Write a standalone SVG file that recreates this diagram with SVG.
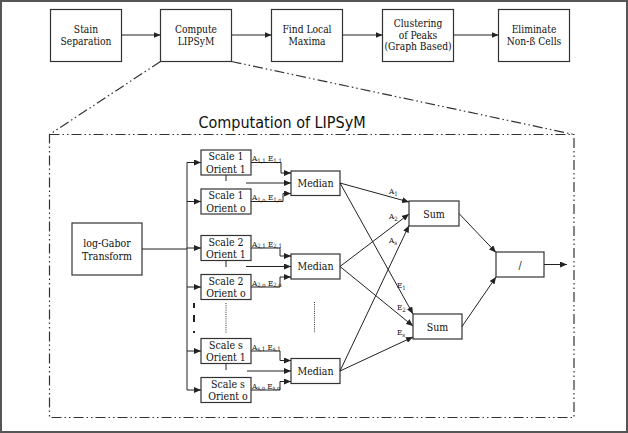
<svg xmlns="http://www.w3.org/2000/svg" width="628" height="433" viewBox="0 0 628 433">
<defs>
<marker id="ah" markerUnits="userSpaceOnUse" markerWidth="7" markerHeight="6" refX="7" refY="3" orient="auto">
<path d="M0,0 L7,3 L0,6 z" fill="#222"/>
</marker>
<style>
.box{fill:#fff;stroke:#333;stroke-width:1.2}
.ln{fill:none;stroke:#222;stroke-width:1}
.ar{fill:none;stroke:#222;stroke-width:1;marker-end:url(#ah)}
.t{font-family:"DejaVu Serif Condensed","DejaVu Serif","Liberation Serif",serif;font-size:10.5px;fill:#111;text-anchor:middle}
.tt{font-family:"DejaVu Serif Condensed","DejaVu Serif","Liberation Serif",serif;font-size:10.2px;fill:#111;text-anchor:middle}
.lb{font-family:"DejaVu Serif Condensed","DejaVu Serif","Liberation Serif",serif;font-size:8px;fill:#111}
.sb{font-size:6px}
.dd{fill:none;stroke:#333;stroke-width:1.2;stroke-dasharray:10 3 1.5 3 1.5 3}
.title{font-family:"DejaVu Sans Condensed","DejaVu Sans","Liberation Sans",sans-serif;font-size:16px;fill:#111;text-anchor:middle}
</style>
</defs>
<rect x="0" y="0" width="628" height="433" fill="#fff"/>
<rect x="1" y="1" width="626" height="431" fill="none" stroke="#555" stroke-width="2"/>

<!-- top pipeline -->
<g id="stain"><rect class="box" x="50.5" y="9.5" width="71" height="52"/><text class="tt" x="86" y="33">Stain</text><text class="tt" x="86" y="45">Separation</text></g>
<g id="compute"><rect class="box" x="160.5" y="9.5" width="71" height="52"/><text class="tt" x="196" y="33">Compute</text><text class="tt" x="196" y="45">LIPSyM</text></g>
<g id="findmax"><rect class="box" x="271.5" y="9.5" width="71" height="52"/><text class="tt" x="307" y="33">Find Local</text><text class="tt" x="307" y="45">Maxima</text></g>
<g id="cluster"><rect class="box" x="382.5" y="9.5" width="71" height="52"/><text class="tt" x="418" y="27">Clustering</text><text class="tt" x="418" y="38.5">of Peaks</text><text class="tt" x="418" y="50">(Graph Based)</text></g>
<g id="eliminate"><rect class="box" x="498.5" y="9.5" width="71" height="52"/><text class="tt" x="534" y="33">Eliminate</text><text class="tt" x="534" y="45">Non-ß Cells</text></g>

<!-- zoom frame -->
<g id="frame">
<line class="dd" x1="160.5" y1="61.5" x2="49.5" y2="134.5"/>
<line class="dd" x1="231.5" y1="61.5" x2="574" y2="134.5"/>
<rect class="dd" x="49.5" y="134.5" width="524.5" height="283"/>
<text class="title" x="282" y="128">Computation of LIPSyM</text>
</g>

<!-- inner nodes -->
<g id="loggabor"><rect class="box" x="72" y="223" width="70" height="52"/><text class="t" x="107" y="247">log-Gabor</text><text class="t" x="107" y="260">Transform</text></g>

<g id="s1o1"><rect class="box" x="201" y="150" width="50" height="25"/><text class="t" x="226" y="160">Scale 1</text><text class="t" x="226" y="172.5">Orient 1</text></g>
<g id="s1oo"><rect class="box" x="201" y="189" width="50" height="25"/><text class="t" x="226" y="199">Scale 1</text><text class="t" x="226" y="211.5">Orient o</text></g>
<g id="s2o1"><rect class="box" x="201" y="235.5" width="50" height="25"/><text class="t" x="226" y="245.5">Scale 2</text><text class="t" x="226" y="258">Orient 1</text></g>
<g id="s2oo"><rect class="box" x="201" y="274.5" width="50" height="25"/><text class="t" x="226" y="284.5">Scale 2</text><text class="t" x="226" y="297">Orient o</text></g>
<g id="sso1"><rect class="box" x="201" y="338.5" width="50" height="25"/><text class="t" x="226" y="348.5">Scale s</text><text class="t" x="226" y="361">Orient 1</text></g>
<g id="ssoo"><rect class="box" x="201" y="377.5" width="50" height="25"/><text class="t" x="228" y="387.5">Scale s</text><text class="t" x="228" y="400">Orient o</text></g>

<g id="median1"><rect class="box" x="291" y="171" width="49" height="24.5"/><text class="t" x="315.5" y="187">Median</text></g>
<g id="median2"><rect class="box" x="291" y="254" width="49" height="25"/><text class="t" x="315.5" y="270">Median</text></g>
<g id="medians"><rect class="box" x="291" y="358.5" width="49" height="25"/><text class="t" x="315.5" y="374.5">Median</text></g>

<g id="sum1"><rect class="box" x="409" y="201" width="50" height="25"/><text class="t" x="434" y="217.5">Sum</text></g>
<g id="sum2"><rect class="box" x="413" y="314" width="49" height="25"/><text class="t" x="437.5" y="330.5">Sum</text></g>
<g id="divide"><rect class="box" x="496" y="252" width="48" height="25"/><text class="t" x="520" y="268.5">/</text></g>

<!-- connectors -->
<g id="connectors">
<line class="ar" x1="121.5" y1="35" x2="160.5" y2="35"/>
<line class="ar" x1="231.5" y1="35" x2="271.5" y2="35"/>
<line class="ar" x1="342.5" y1="35" x2="382.5" y2="35"/>
<line class="ar" x1="453.5" y1="35" x2="498.5" y2="35"/>

<line class="ln" x1="142" y1="249" x2="187" y2="249"/>
<line class="ln" x1="187" y1="162.5" x2="187" y2="390"/>
<line class="ar" x1="187" y1="162.5" x2="201" y2="162.5"/>
<line class="ar" x1="187" y1="201.5" x2="201" y2="201.5"/>
<line class="ar" x1="187" y1="248" x2="201" y2="248"/>
<line class="ar" x1="187" y1="287" x2="201" y2="287"/>
<line class="ar" x1="187" y1="351" x2="201" y2="351"/>
<line class="ar" x1="187" y1="390" x2="201" y2="390"/>

<!-- group 1 -->
<polyline class="ar" points="251,162.5 281,162.5 281,173 291,173"/>
<polyline class="ar" points="251,201.5 283,201.5 283,193.5 291,193.5"/>
<line class="ln" x1="226" y1="175" x2="226" y2="181"/>
<line class="ar" x1="246" y1="183" x2="291" y2="183"/>
<!-- group 2 -->
<polyline class="ar" points="251,248 280,248 280,256 291,256"/>
<polyline class="ar" points="251,287 280,287 280,277 291,277"/>
<line class="ln" x1="226" y1="260.5" x2="226" y2="267"/>
<line class="ar" x1="246" y1="266.5" x2="291" y2="266.5"/>
<!-- group s -->
<polyline class="ar" points="251,351 280,351 280,360.5 291,360.5"/>
<polyline class="ar" points="251,390 280,390 280,381.5 291,381.5"/>
<line class="ln" x1="226" y1="363.5" x2="226" y2="370"/>
<line class="ar" x1="247" y1="371" x2="291" y2="371"/>

<!-- ellipsis marks -->
<line x1="226" y1="303" x2="226" y2="333" stroke="#333" stroke-width="1" stroke-dasharray="1 1.2"/>
<line x1="314.5" y1="302" x2="314.5" y2="333" stroke="#333" stroke-width="1" stroke-dasharray="1 1.2"/>
<line x1="194" y1="303" x2="194" y2="333" stroke="#222" stroke-width="2" stroke-dasharray="5 7 7 9 2 30"/>

<!-- medians to sums -->
<line class="ar" x1="340" y1="183" x2="409" y2="202"/>
<line class="ar" x1="340" y1="266.5" x2="409" y2="214"/>
<line class="ar" x1="340" y1="371" x2="409" y2="225.5"/>
<line class="ar" x1="340" y1="183" x2="413" y2="314"/>
<line class="ar" x1="340" y1="266.5" x2="413" y2="326"/>
<line class="ar" x1="340" y1="371" x2="413" y2="337"/>

<line class="ar" x1="459" y1="213.5" x2="496" y2="252.5"/>
<line class="ar" x1="462" y1="326.5" x2="496" y2="277"/>
<line class="ar" x1="544" y1="264.5" x2="567" y2="264.5"/>
</g>

<!-- labels -->
<g id="labels">
<text class="lb" x="252" y="161">A<tspan class="sb" dy="1.5">1,1</tspan><tspan dy="-1.5"> E</tspan><tspan class="sb" dy="1.5">1,1</tspan></text>
<text class="lb" x="252" y="200">A<tspan class="sb" dy="1.5">1,o</tspan><tspan dy="-1.5"> E</tspan><tspan class="sb" dy="1.5">1,o</tspan></text>
<text class="lb" x="252" y="246.5">A<tspan class="sb" dy="1.5">2,1</tspan><tspan dy="-1.5"> E</tspan><tspan class="sb" dy="1.5">2,1</tspan></text>
<text class="lb" x="252" y="285.5">A<tspan class="sb" dy="1.5">2,o</tspan><tspan dy="-1.5"> E</tspan><tspan class="sb" dy="1.5">2,o</tspan></text>
<text class="lb" x="252" y="349.5">A<tspan class="sb" dy="1.5">s,1</tspan><tspan dy="-1.5"> E</tspan><tspan class="sb" dy="1.5">s,1</tspan></text>
<text class="lb" x="252" y="388.5">A<tspan class="sb" dy="1.5">s,o</tspan><tspan dy="-1.5"> E</tspan><tspan class="sb" dy="1.5">s,o</tspan></text>

<text class="lb" x="389" y="194">A<tspan class="sb" dy="1.5">1</tspan></text>
<text class="lb" x="389" y="219">A<tspan class="sb" dy="1.5">2</tspan></text>
<text class="lb" x="389" y="243">A<tspan class="sb" dy="1.5">s</tspan></text>
<text class="lb" x="397" y="288">E<tspan class="sb" dy="1.5">1</tspan></text>
<text class="lb" x="397" y="310">E<tspan class="sb" dy="1.5">2</tspan></text>
<text class="lb" x="397" y="335">E<tspan class="sb" dy="1.5">s</tspan></text>
</g>
</svg>
